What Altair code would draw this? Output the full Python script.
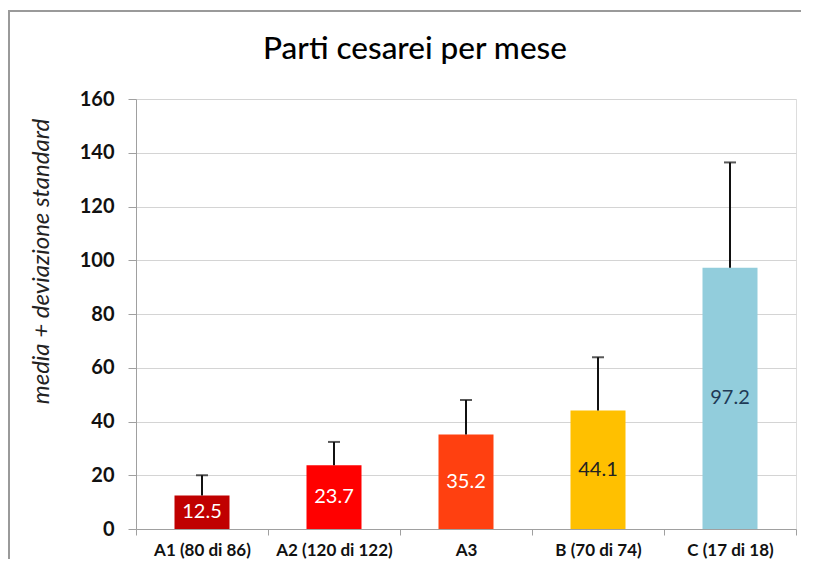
import altair as alt
import pandas as pd

categories = ["A1 (80 di 86)", "A2 (120 di 122)", "A3", "B (70 di 74)", "C (17 di 18)"]
means = [12.5, 23.7, 35.2, 44.1, 97.2]
tops = [20.0, 32.4, 48.0, 63.9, 136.4]
bar_colors = ["#C00000", "#FF0000", "#FF4010", "#FFC000", "#92CDDC"]
label_colors = ["#FFFFFF", "#FFFFFF", "#FFFFFF", "#222222", "#1F3A56"]
y_ticks = [0, 20, 40, 60, 80, 100, 120, 140, 160]

df = pd.DataFrame({
    "cat": categories,
    "mean": means,
    "top": tops,
    "mid": [m / 2 for m in means],
    "label": [f"{m:.1f}" for m in means],
})

FONT = "Lato"

x_enc = alt.X(
    "cat:N",
    sort=categories,
    title=None,
    scale=alt.Scale(paddingInner=0, paddingOuter=0),
    axis=alt.Axis(
        labelAngle=0,
        labelFont=FONT,
        labelFontWeight="bold",
        labelFontSize=17,
        labelColor="#111111",
        labelPadding=7,
        tickBand="extent",
        tickSize=6,
        tickColor="#a0a0a0",
        domainColor="#a0a0a0",
        grid=False,
    ),
)

y_scale = alt.Scale(domain=[0, 160], nice=False)

bars = alt.Chart(df).mark_bar(size=55).encode(
    x=x_enc,
    y=alt.Y(
        "mean:Q",
        scale=y_scale,
        title="media + deviazione standard",
        axis=alt.Axis(
            values=y_ticks,
            labelFont=FONT,
            labelFontWeight="bold",
            labelFontSize=20,
            labelColor="#111111",
            labelPadding=14,
            tickSize=8,
            tickColor="#a0a0a0",
            domainColor="#a0a0a0",
            gridColor="#d4d4d4",
            titleFont=FONT,
            titleFontStyle="italic",
            titleFontWeight="normal",
            titleFontSize=24,
            titleColor="#222222",
            titleX=-83,
            titleY=162,
        ),
    ),
    color=alt.Color("cat:N", sort=categories,
                    scale=alt.Scale(domain=categories, range=bar_colors), legend=None),
)

err = alt.Chart(df).mark_rule(color="#111111", strokeWidth=2).encode(
    x=alt.X("cat:N", sort=categories),
    y=alt.Y("mean:Q", scale=y_scale),
    y2="top:Q",
)

caps = alt.Chart(df).mark_tick(color="#111111", thickness=2, size=12).encode(
    x=alt.X("cat:N", sort=categories),
    y=alt.Y("top:Q", scale=y_scale),
)

labels = alt.Chart(df).mark_text(font=FONT, fontSize=20, baseline="middle").encode(
    x=alt.X("cat:N", sort=categories),
    y=alt.Y("mid:Q", scale=y_scale),
    text="label:N",
    color=alt.Color("cat:N", sort=categories,
                    scale=alt.Scale(domain=categories, range=label_colors), legend=None),
)

one = pd.DataFrame({"f": [0]})
frame_top = alt.Chart(one).mark_rule(stroke="#9a9a9a", strokeWidth=2).encode(
    x=alt.value(-128), x2=alt.value(668), y=alt.value(-88)
)
frame_left = alt.Chart(one).mark_rule(stroke="#9a9a9a", strokeWidth=2).encode(
    x=alt.value(-127), y=alt.value(-89), y2=alt.value(480)
)

chart = alt.layer(frame_top, frame_left, bars, err, caps, labels).resolve_scale(color="independent").properties(
    width=660,
    height=430,
    padding={"left": 128, "top": 91, "right": 5, "bottom": 30},
    autosize=alt.AutoSizeParams(type="none"),
    title=alt.TitleParams(
        "Parti cesarei per mese",
        font=FONT,
        fontSize=31.5,
        fontWeight=500,
        color="#000000",
        anchor="middle",
        dx=-51,
        dy=56,
        offset=0,
    ),
).configure_view(stroke=None).configure(background="white")

chart.save("out.html", embed_options={"renderer": "svg", "actions": False})
